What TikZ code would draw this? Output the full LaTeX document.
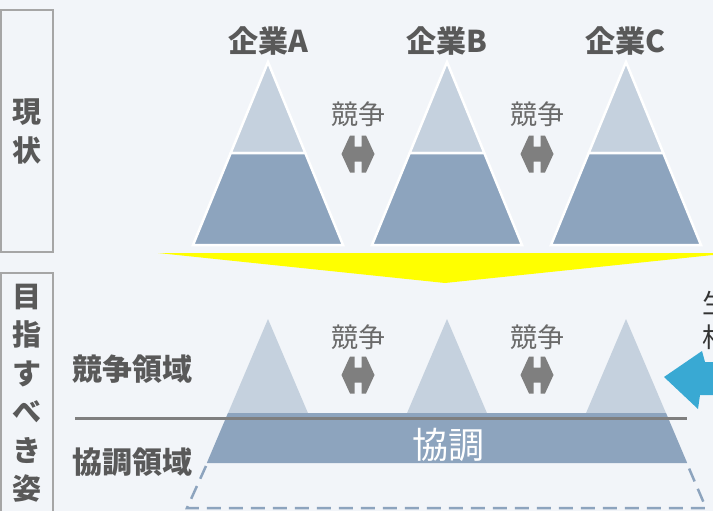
\documentclass[tikz,border=0pt]{standalone}
\usepackage{fontspec}
\setmainfont{Noto Sans CJK JP}
\definecolor{bg}{HTML}{F2F5F9}
\definecolor{lite}{HTML}{C5D1DE}
\definecolor{dark}{HTML}{8DA4BE}
\definecolor{txt}{HTML}{595959}
\definecolor{txtb}{HTML}{6A6A6A}
\definecolor{arrc}{HTML}{7F7F7F}
\definecolor{boxc}{HTML}{A6A6A6}
\definecolor{blu}{HTML}{39A9D3}
\definecolor{yel}{HTML}{FFFF00}
\begin{document}
\begin{tikzpicture}[x=1pt,y=-1pt,
  lbl/.style={font=\fontsize{30}{36}\selectfont\bfseries, text=txt, inner sep=0pt},
  vlbl/.style={font=\fontsize{29}{38.5}\selectfont\bfseries, text=txt, inner sep=0pt, align=center},
  comp/.style={font=\fontsize{27}{30}\selectfont, text=txtb, inner sep=0pt},
  sidebox/.style={draw=boxc, line width=2pt},
  toptri/.style={fill=lite, draw=white, line width=2.5pt, line join=miter},
  topbase/.style={fill=dark, draw=white, line width=2.5pt, line join=miter},
  lrarrow/.pic={\fill[arrc] (-16.5,0) -- (-8,-18.5) -- (-3.5,-18.5) -- (-3.5,-7.5) -- (3.5,-7.5) -- (3.5,-18.5) -- (8,-18.5) -- (16.5,0)
     -- (8,18.5) -- (3.5,18.5) -- (3.5,7.5) -- (-3.5,7.5) -- (-3.5,18.5) -- (-8,18.5) -- cycle;}
]
\useasboundingbox (0,0) rectangle (713,511);
\clip (0,0) rectangle (713,511);
\fill[bg] (0,0) rectangle (713,511);

% side boxes
\draw[sidebox] (1,10) rectangle (53,252);
\draw[sidebox] (1,273) rectangle (53,540);
\node[vlbl] (genjo) at (27,131.5) {現\\状};
\node[vlbl] (mezasu) at (27,393) {目\\指\\す\\べ\\き\\姿};

% top pyramids
\foreach \ax/\nm in {268/A,447/B,626/C}{
  \filldraw[toptri] (\ax,62) -- (\ax+37.3,153) -- (\ax-37.3,153) -- cycle;
  \filldraw[topbase] (\ax-37.3,153) -- (\ax+37.3,153) -- (\ax+75,245) -- (\ax-75,245) -- cycle;
  \node[lbl] (co\nm) at (\ax,41) {企業\nm};
}

% yellow down arrow
\fill[yel] (158,253) -- (732,253) -- (445,283) -- cycle;

% competition labels and arrows
\foreach \cx/\nm in {358/a,537/b}{
  \node[comp] (kt\nm) at (\cx,114) {競争};
  \pic at (\cx,154) {lrarrow};
  \node[comp] (kb\nm) at (\cx,337) {競争};
  \pic at (\cx,375) {lrarrow};
}

% bottom pyramids
\foreach \ax in {268,447,626}{
  \fill[lite] (\ax,319) -- (\ax+42.9,420) -- (\ax-42.9,420) -- cycle;
}
\fill[dark] (228,413) -- (666,413) -- (687.2,463) -- (206.8,463) -- cycle;
\node[font=\fontsize{36}{40}\selectfont, text=white, inner sep=0pt] (kyocho) at (448,445) {協調};
\draw[dark, line width=2.5pt, dash pattern=on 14pt off 8pt] (206,466) -- (187,508) -- (706,508) -- (688,466);
\draw[arrc, line width=3pt] (75,418) -- (687,418);

\node[lbl, anchor=west] (kyoso) at (72,369) {競争領域};
\node[lbl, anchor=west] (kyochor) at (72,462) {協調領域};

% blue arrow
\fill[blu] (664,377) -- (702,351) -- (705,362) -- (725,362) -- (725,395) -- (700,395) -- (698,409) -- cycle;

% clipped right text
\node[font=\fontsize{27}{30}\selectfont, text=black!80, inner sep=0pt, anchor=west] (sei) at (702,303) {生};
\node[font=\fontsize{27}{30}\selectfont, text=black!80, inner sep=0pt, anchor=west] (so) at (702,337) {相};
\end{tikzpicture}
\end{document}
